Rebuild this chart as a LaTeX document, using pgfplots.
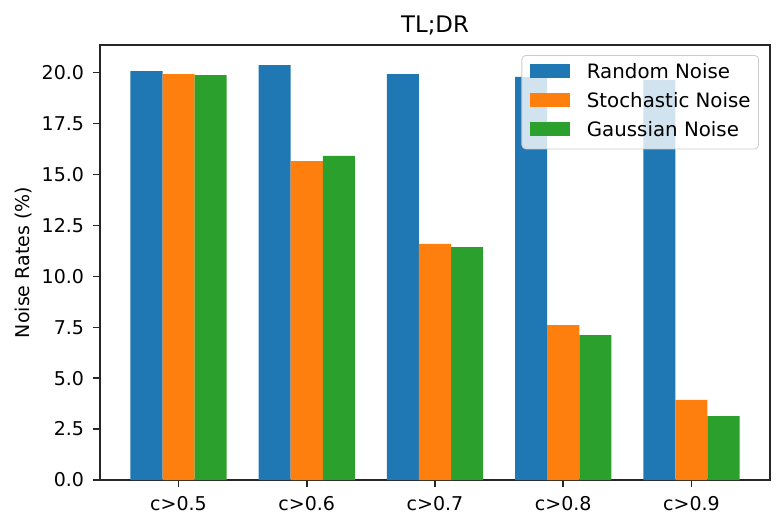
\documentclass[border=0pt]{standalone}
\usepackage{fontspec}
\setmainfont{DejaVu Sans}
\usepackage{pgfplots}
\pgfplotsset{compat=1.18}
\definecolor{tabblue}{HTML}{1F77B4}
\definecolor{taborange}{HTML}{FF7F0E}
\definecolor{tabgreen}{HTML}{2CA02C}
\begin{document}
\begin{tikzpicture}
\useasboundingbox (-50pt,-23.5pt) rectangle (341.5pt,240pt);
\begin{axis}[
  at={(0,0)}, anchor=south west,
  width=335pt, height=217.5pt, scale only axis,
  xmin=-0.6125, xmax=4.6125, ymin=0, ymax=21.36,
  ybar, bar width=0.25,
  xtick={0,1,2,3,4},
  xticklabels={c>0.5,c>0.6,c>0.7,c>0.8,c>0.9},
  ytick={0,2.5,5,7.5,10,12.5,15,17.5,20},
  yticklabel style={/pgf/number format/fixed, /pgf/number format/fixed zerofill, /pgf/number format/precision=1},
  /pgf/number format/assume math mode=true,
  tick align=outside, major tick length=3.3pt, tick pos=left,
  axis line style={line width=0.76pt, black!85},
  every tick/.style={line width=0.76pt, black!85},
  tick label style={font=\fontsize{9.5}{11}\selectfont, inner sep=0pt, text height=6.9pt, text depth=0pt},
  xticklabel style={anchor=north, yshift=-4.6pt},
  yticklabel style={anchor=east, xshift=-4.5pt},
  title={TL;DR},
  title style={font=\fontsize{11.4}{13}\selectfont, at={(axis description cs:0.5,1)}, anchor=base, yshift=0.5pt, inner sep=0pt},
  ylabel={Noise Rates (\%)},
  every axis y label/.style={at={([xshift=-38.25pt]axis description cs:0,0.5)}, rotate=90, anchor=center, font=\fontsize{9.5}{11}\selectfont},
  legend style={at={(axis description cs:1,1)}, anchor=north east, xshift=-5.5pt, yshift=-5pt,
    draw=black!20, rounded corners=2pt, fill=white, fill opacity=0.8, text opacity=1,
    font=\fontsize{9.9}{11}\selectfont, inner xsep=4pt, inner ysep=4.5pt, row sep=5.75pt,
    nodes={inner sep=0pt, text height=7pt, text depth=1.75pt},
    cells={anchor=base west},
    /tikz/every odd column/.append style={column sep=8.5pt}},
]
\addplot[fill=tabblue, draw=none, bar shift=-0.25, legend image code/.code={\fill[tabblue, fill opacity=1, sharp corners] (0pt,0pt) rectangle (20pt,7pt);}]
  coordinates {(0,20.08) (1,20.37) (2,19.93) (3,19.80) (4,19.64)};
\addplot[fill=taborange, draw=none, bar shift=0, legend image code/.code={\fill[taborange, fill opacity=1, sharp corners] (0pt,0pt) rectangle (20pt,7pt);}]
  coordinates {(0,19.93) (1,15.66) (2,11.59) (3,7.61) (4,3.93)};
\addplot[fill=tabgreen, draw=none, bar shift=0.25, legend image code/.code={\fill[tabgreen, fill opacity=1, sharp corners] (0pt,0pt) rectangle (20pt,7pt);}]
  coordinates {(0,19.88) (1,15.91) (2,11.44) (3,7.12) (4,3.14)};
\legend{Random Noise, Stochastic Noise, Gaussian Noise}
\end{axis}
\end{tikzpicture}
\end{document}
